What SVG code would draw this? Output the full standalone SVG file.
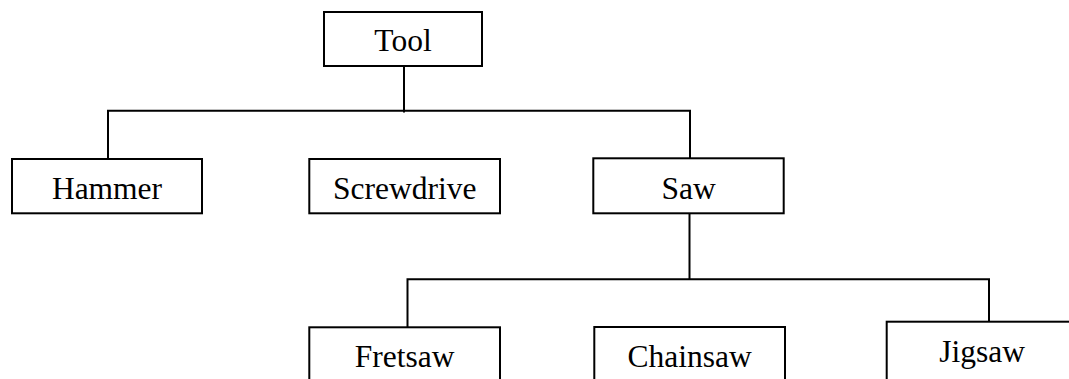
<svg xmlns="http://www.w3.org/2000/svg" width="1069" height="379" viewBox="0 0 1069 379">
<style>
.box{fill:#fff;stroke:#000;stroke-width:2}
.lbl{font-family:"Liberation Serif","Times New Roman",serif;font-size:31.5px;fill:#000;text-anchor:middle}
.ln{fill:none;stroke:#000;stroke-width:2}
</style>
<rect width="1069" height="379" fill="#fff"/>
<g id="connectors">
<path class="ln" d="M404 66V112.5"/>
<path class="ln" d="M108 159V110.7H690V158.3"/>
<path class="ln" d="M689.5 213.3V280"/>
<path class="ln" d="M407.5 327.5V279.3H989V322"/>
</g>
<g id="tool"><rect class="box" x="324" y="12" width="158" height="54"/><text class="lbl" x="403" y="51">Tool</text></g>
<g id="hammer"><rect class="box" x="12" y="159" width="190" height="54.3"/><text class="lbl" x="107" y="198.5">Hammer</text></g>
<g id="screwdrive"><rect class="box" x="309.3" y="159" width="190.7" height="54.3"/><text class="lbl" x="404.7" y="199">Screwdrive</text></g>
<g id="saw"><rect class="box" x="593.3" y="158.3" width="190.4" height="55"/><text class="lbl" x="688.5" y="199.3">Saw</text></g>
<g id="fretsaw"><rect class="box" x="309.3" y="327.3" width="190.7" height="80"/><text class="lbl" x="404.7" y="366.7">Fretsaw</text></g>
<g id="chainsaw"><rect class="box" x="594.3" y="327" width="190.7" height="80"/><text class="lbl" x="689.7" y="366.5">Chainsaw</text></g>
<g id="jigsaw"><rect class="box" x="886.7" y="321.7" width="191" height="80"/><text class="lbl" x="982.2" y="361.7">Jigsaw</text></g>
</svg>
